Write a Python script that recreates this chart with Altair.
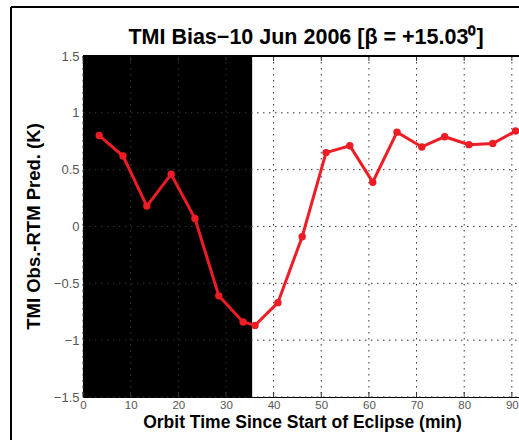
import altair as alt
import pandas as pd

# Orbit time (min) and TMI bias (K)
minutes = [3.4, 8.4, 13.4, 18.5, 23.5, 28.5, 33.6, 36.1, 40.9, 46.0,
           51.0, 56.0, 60.8, 65.9, 71.1, 75.9, 81.0, 86.0, 90.8]
bias = [0.80, 0.62, 0.18, 0.46, 0.07, -0.61, -0.84, -0.87, -0.67, -0.09,
        0.65, 0.71, 0.39, 0.83, 0.70, 0.79, 0.72, 0.73, 0.84]

eclipse_start = [0.0]
eclipse_end = [35.5]

x_ticks = [0, 10, 20, 30, 40, 50, 60, 70, 80, 90]
y_ticks = [-1.5, -1, -0.5, 0, 0.5, 1, 1.5]

title_text = ["TMI Bias\u221210 Jun 2006 [\u03b2 = +15.03\u2070]"]

X_DOMAIN = [0, 91.5]
Y_DOMAIN = [-1.5, 1.5]
W, H = 436, 341
FONT = "Liberation Sans"

df = pd.DataFrame({"t": minutes, "bias": bias})
ecl = pd.DataFrame({"x0": eclipse_start, "x1": eclipse_end})
xt = pd.DataFrame({"t": x_ticks})
yt = pd.DataFrame({"v": y_ticks})
tt = pd.DataFrame({"label": title_text})

xs = alt.Scale(domain=X_DOMAIN, nice=False, zero=False)
ys = alt.Scale(domain=Y_DOMAIN, nice=False, zero=False)

x_axis = alt.Axis(values=x_ticks, grid=False, ticks=False, domain=True,
                  domainColor="black", domainWidth=1.2, format="d",
                  labelFont=FONT, labelFontSize=11.5, labelColor="#555555",
                  labelPadding=2, labelFlush=False,
                  title="Orbit Time Since Start of Eclipse (min)",
                  titleFont=FONT, titleFontSize=17.5, titleFontWeight="bold",
                  titleColor="black", titlePadding=3, titleX=219)
y_axis = alt.Axis(values=y_ticks, grid=False, ticks=False, domain=True,
                  domainColor="black", domainWidth=1.2, format=".1~f",
                  labelFont=FONT, labelFontSize=13, labelColor="#555555",
                  labelPadding=4, labelFlush=False,
                  title="TMI Obs.-RTM Pred. (K)",
                  titleFont=FONT, titleFontSize=18.5, titleFontWeight="bold",
                  titleColor="black", titlePadding=10, titleY=170)

# eclipse shading
shade = alt.Chart(ecl).mark_rect(color="black").encode(
    x=alt.X("x0:Q", scale=xs, axis=x_axis),
    x2="x1:Q",
    y=alt.value(0),
    y2=alt.value(H),
)

# dotted grid
vgrid = alt.Chart(xt).mark_rule(color="#333333", strokeDash=[1.5, 4.5], strokeWidth=1).encode(
    x=alt.X("t:Q", scale=xs), y=alt.value(0), y2=alt.value(H))
hgrid = alt.Chart(yt).mark_rule(color="#333333", strokeDash=[1.5, 4.5], strokeWidth=1).encode(
    y=alt.Y("v:Q", scale=ys, axis=y_axis), x=alt.value(0), x2=alt.value(W))

# inward ticks on the bottom and top edges
bticks = alt.Chart(xt).mark_rule(color="#333333", strokeWidth=1).encode(
    x=alt.X("t:Q", scale=xs), y=alt.value(H), y2=alt.value(H - 5))
tticks = alt.Chart(xt).mark_rule(color="#333333", strokeWidth=1).encode(
    x=alt.X("t:Q", scale=xs), y=alt.value(0), y2=alt.value(5))

# top border of the axes box
top = alt.Chart(xt).mark_rule(color="black", strokeWidth=1.2).encode(
    x=alt.value(0), x2=alt.value(W), y=alt.value(0))

# figure frame
frame_left = alt.Chart(xt).mark_rule(color="black", strokeWidth=2).encode(
    x=alt.value(-72), y=alt.value(-49), y2=alt.value(H + 43))
frame_top = alt.Chart(xt).mark_rule(color="black", strokeWidth=2).encode(
    x=alt.value(-72), x2=alt.value(W), y=alt.value(-49))

# plot title
title = alt.Chart(tt).mark_text(
    font=FONT, fontSize=21.5, fontWeight="bold", color="black",
    align="center", baseline="alphabetic",
).encode(text="label:N", x=alt.value(223), y=alt.value(-12))

line = alt.Chart(df).mark_line(color="#ee1c24", strokeWidth=3, clip=True).encode(
    x=alt.X("t:Q", scale=xs), y=alt.Y("bias:Q", scale=ys))
pts = alt.Chart(df).mark_circle(color="#ee1c24", size=55, opacity=1, clip=True).encode(
    x=alt.X("t:Q", scale=xs), y=alt.Y("bias:Q", scale=ys))

chart = alt.layer(
    shade, vgrid, hgrid, bticks, tticks, top, frame_left, frame_top, title, line, pts
).properties(
    width=W, height=H,
    autosize=alt.AutoSizeParams(type="none"),
    padding={"left": 83, "top": 56, "right": 0, "bottom": 43},
).configure_view(stroke=None).configure(background="white")

chart.save("out.html", embed_options={"renderer": "svg", "actions": False})
